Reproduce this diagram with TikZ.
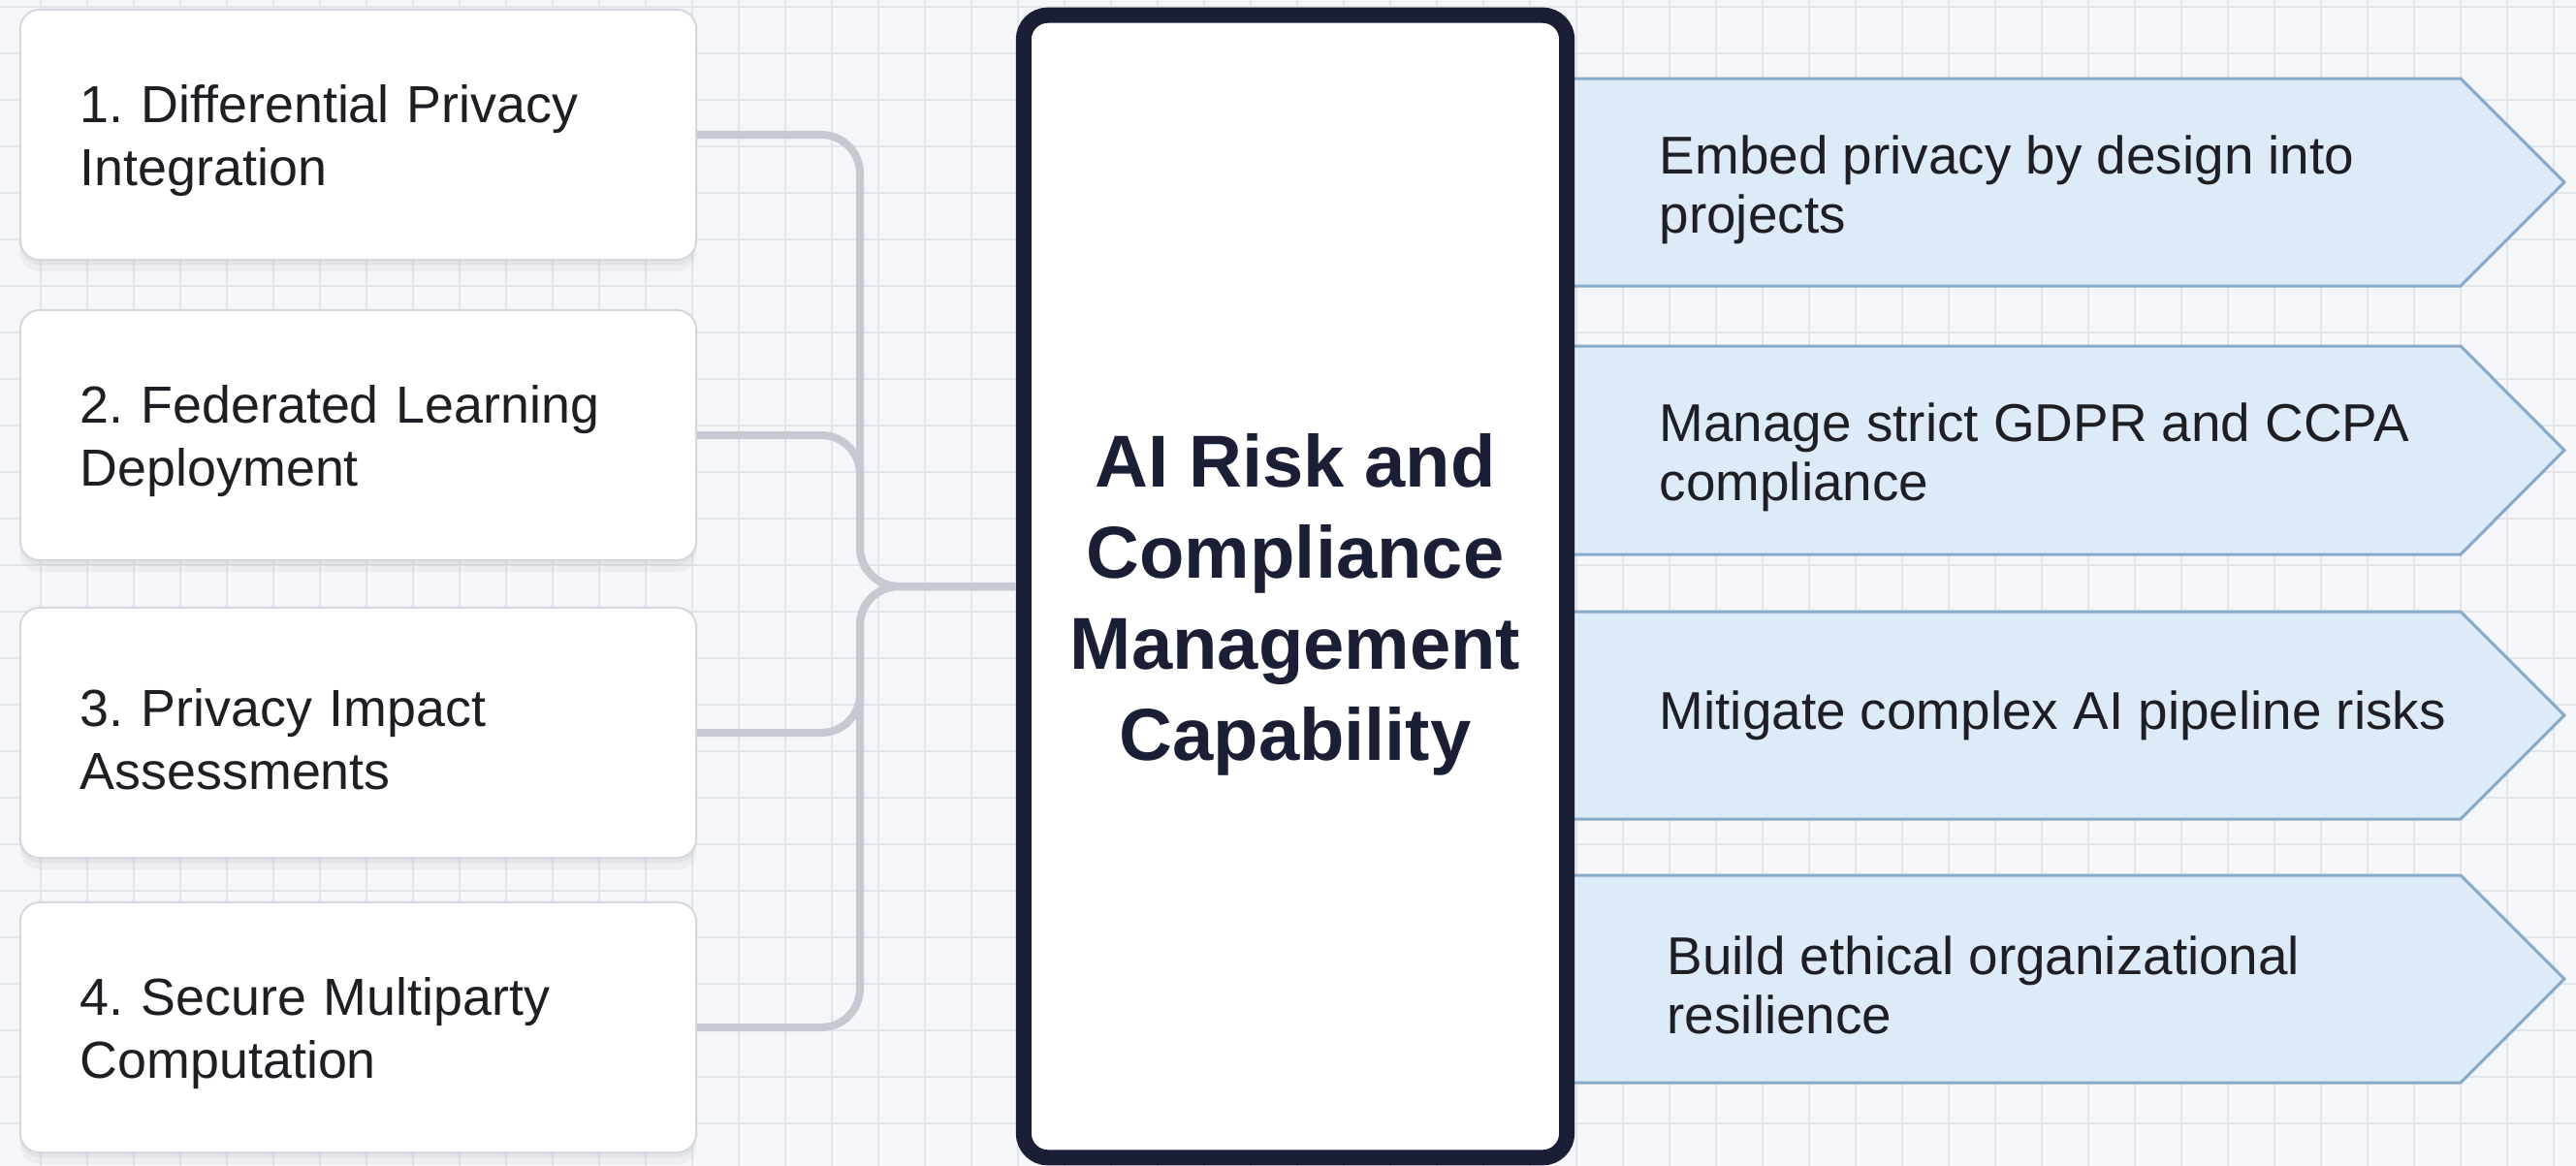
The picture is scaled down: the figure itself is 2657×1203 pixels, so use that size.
\documentclass[tikz,border=0pt]{standalone}
\usepackage{fontspec}
\setmainfont{Liberation Sans}
\usetikzlibrary{shadows}
\definecolor{bgc}{HTML}{F4F6F9}
\definecolor{gridc}{HTML}{E1E5EB}
\definecolor{connc}{HTML}{C5C9D2}
\definecolor{navy}{HTML}{1B1F35}
\definecolor{boxline}{HTML}{D4D8DE}
\definecolor{arrfill}{HTML}{DDEAF8}
\definecolor{arrline}{HTML}{88A9C8}
\definecolor{txtc}{HTML}{1E1F24}
\newcommand{\firststrut}{\rule{0pt}{0.52cm}}
\begin{document}
\frenchspacing
\begin{tikzpicture}[x=0.01cm,y=-0.01cm,
  gridline/.style={gridc, line width=0.015cm},
  leftbox/.style={draw=boxline, line width=0.02cm, fill=white, rounded corners=0.2cm,
    minimum width=6.97cm, minimum height=2.58cm, text width=5.73cm, inner xsep=0.62cm,
    align=left, font=\fontsize{15.3}{18.5}\selectfont, text=txtc,
    drop shadow={opacity=0.07, shadow xshift=0cm, shadow yshift=-0.12cm},
    drop shadow={opacity=0.08, shadow xshift=0cm, shadow yshift=-0.05cm}},
  centerbox/.style={draw=navy, line width=0.16cm, fill=white, rounded corners=0.25cm,
    minimum width=5.6cm, minimum height=11.78cm},
  centertext/.style={align=center, inner sep=0pt, text=navy,
    font=\fontsize{21.6}{26.7}\selectfont\bfseries},
  chevron/.style={fill=arrfill, draw=arrline, line width=0.03cm, line join=miter},
  arrtext/.style={anchor=west, inner sep=0pt, align=left, text=txtc,
    font=\fontsize{15.6}{17.4}\selectfont},
  conn/.style={draw=connc, line width=0.08cm, rounded corners=0.4cm}
]
% background and grid
\fill[bgc] (0,0) rectangle (2657,1203);
\useasboundingbox (0,0) rectangle (2657,1203);
\foreach \gx in {42,90,...,2657} \draw[gridline] (\gx,0) -- (\gx,1203);
\foreach \gy in {7,55,...,1203} \draw[gridline] (0,\gy) -- (2657,\gy);

% right chevrons
\draw[chevron] (1600,81) -- (2538,81) -- (2645,188) -- (2538,295) -- (1600,295) -- cycle;
\draw[chevron] (1600,357) -- (2538,357) -- (2645,464.5) -- (2538,572) -- (1600,572) -- cycle;
\draw[chevron] (1600,631) -- (2538,631) -- (2645,738) -- (2538,845) -- (1600,845) -- cycle;
\draw[chevron] (1600,903) -- (2538,903) -- (2645,1010) -- (2538,1117) -- (1600,1117) -- cycle;

% left boxes
\node[leftbox] (b1) at (369.5,139) {\firststrut 1. Differential Privacy\\Integration};
\node[leftbox] (b2) at (369.5,449) {\firststrut 2. Federated Learning\\Deployment};
\node[leftbox] (b3) at (369.5,756) {\firststrut 3. Privacy Impact\\Assessments};
\node[leftbox] (b4) at (369.5,1060) {\firststrut 4. Secure Multiparty\\Computation};

% center box
\node[centerbox] (c) at (1336,605) {};
\node[centertext] (ct) at (1336,624) {AI Risk and\\Compliance\\Management\\Capability};

% connectors
\draw[conn] (b1.east) -| (887,605) -- (c.west);
\draw[conn] (b2.east) -| (887,605) -- (c.west);
\draw[conn] (b3.east) -| (887,605) -- (c.west);
\draw[conn] (b4.east) -| (887,605) -- (c.west);

% chevron texts
\node[arrtext] (r1) at (1711,196) {Embed privacy by design into\\projects};
\node[arrtext] (r2) at (1711,472) {Manage strict GDPR and CCPA\\compliance};
\node[arrtext] (r3) at (1711,738) {Mitigate complex AI pipeline risks};
\node[arrtext] (r4) at (1719,1016) {Build ethical organizational\\resilience};
\end{tikzpicture}
\end{document}
